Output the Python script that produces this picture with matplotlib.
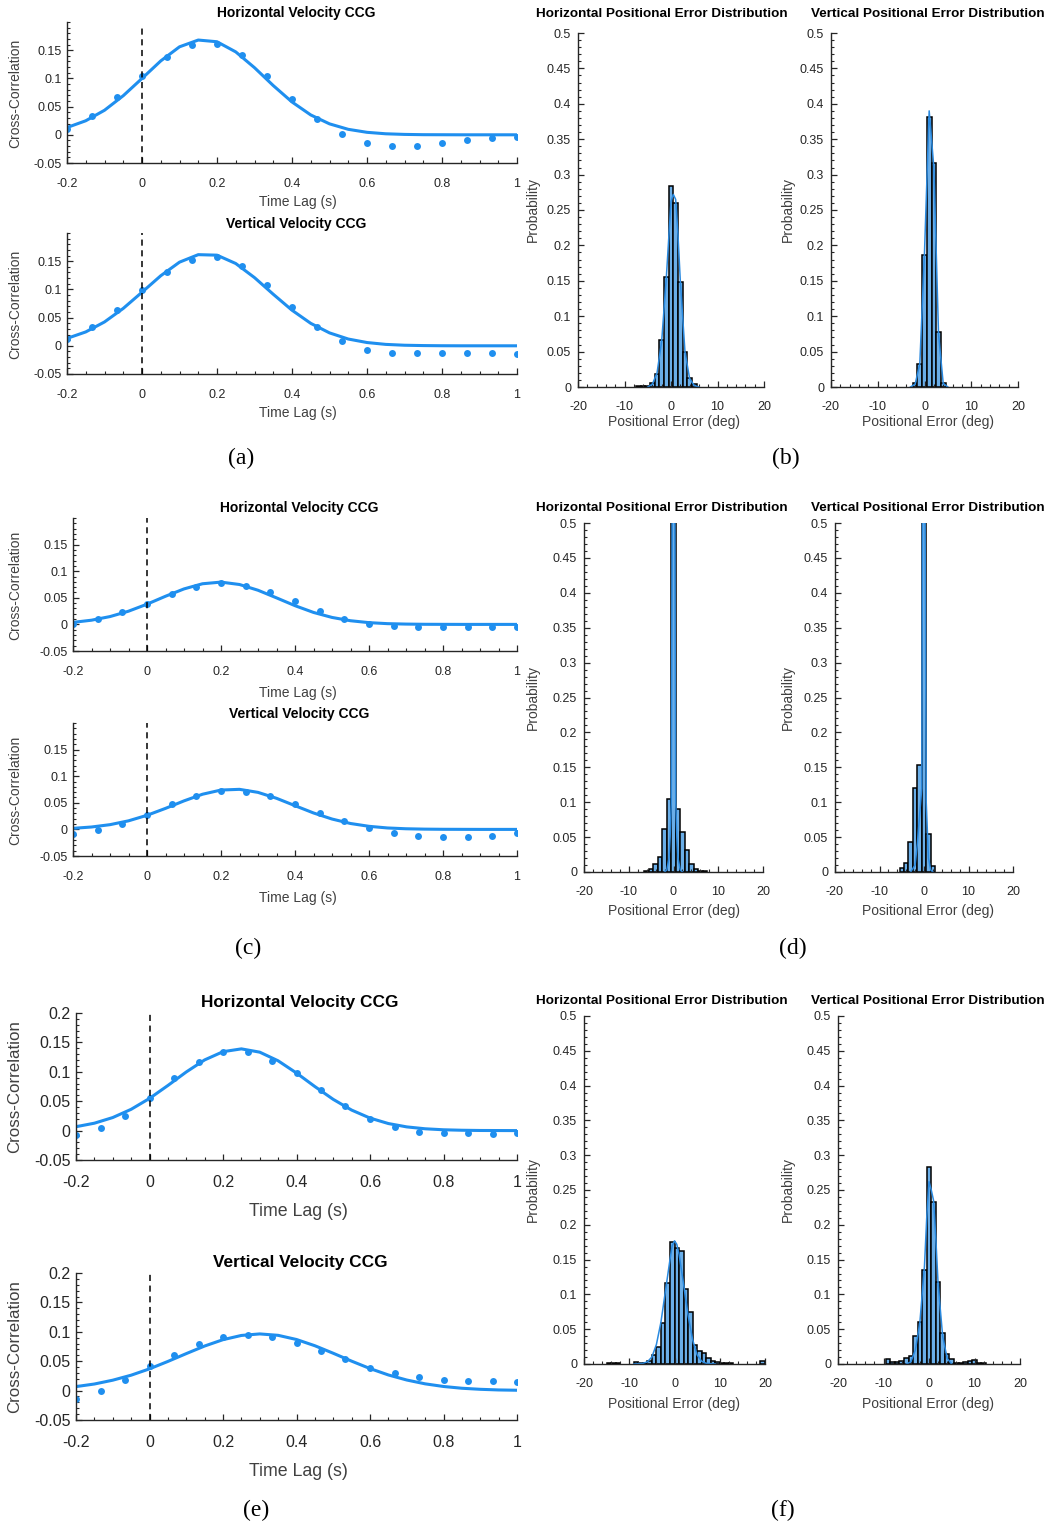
import numpy as np
import matplotlib.pyplot as plt
from matplotlib.ticker import MultipleLocator

plt.rcParams['font.family'] = ['Liberation Sans', 'DejaVu Sans']

# Figure size in pixels
W, H = 1048, 1527

# Lags of the CCG samples and of the fitted curves
lags = np.linspace(-0.2, 1.0, 19)
fit_lags = np.linspace(-0.2, 1.0, 25)

# CCG samples (dots)
dots_a_h = [0.011, 0.034, 0.067, 0.105, 0.138, 0.160, 0.161, 0.141, 0.105, 0.064, 0.028, 0.002,
            -0.014, -0.019, -0.019, -0.015, -0.009, -0.005, -0.004]
dots_a_v = [0.012, 0.034, 0.064, 0.099, 0.131, 0.153, 0.157, 0.141, 0.108, 0.068, 0.034, 0.008,
            -0.007, -0.013, -0.0125, -0.012, -0.012, -0.013, -0.015]
dots_c_h = [0.001, 0.011, 0.024, 0.039, 0.057, 0.071, 0.078, 0.073, 0.061, 0.044, 0.026, 0.011,
            0.001, -0.003, -0.004, -0.004, -0.004, -0.004, -0.005]
dots_c_v = [-0.0095, -0.001, 0.011, 0.028, 0.047, 0.063, 0.073, 0.071, 0.062, 0.047, 0.030, 0.015,
            0.003, -0.006, -0.012, -0.015, -0.0145, -0.012, -0.006]
dots_e_h = [-0.0074, 0.004, 0.025, 0.056, 0.089, 0.117, 0.133, 0.133, 0.119, 0.0975, 0.069, 0.0416,
            0.019, 0.006, -0.002, -0.004, -0.0046, -0.006, -0.004]
dots_e_v = [-0.0136, 0.0, 0.018, 0.041, 0.060, 0.079, 0.091, 0.094, 0.091, 0.081, 0.067, 0.053,
            0.039, 0.0295, 0.0227, 0.0187, 0.0164, 0.0159, 0.0142]

# Fitted curves, read every 0.05 s
fit_a_h = [0.0129, 0.0249, 0.0435, 0.0693, 0.0999, 0.131, 0.156, 0.168, 0.165, 0.147, 0.119, 0.0873,
           0.0582, 0.0352, 0.0194, 0.0097, 0.0044, 0.0018, 0.0007, 0.0002, 0.0001, 0, 0, 0, 0]
fit_a_v = [0.0131, 0.0246, 0.0423, 0.0663, 0.0950, 0.1242, 0.1483, 0.1616, 0.1607, 0.1459, 0.1209,
           0.0914, 0.0631, 0.0398, 0.0229, 0.0120, 0.0058, 0.0025, 0.0010, 0.0004, 0.0001, 0, 0, 0, 0]
fit_c_h = [0.0038, 0.0079, 0.0147, 0.0248, 0.0380, 0.0529, 0.0667, 0.0764, 0.0795, 0.0750, 0.0642,
           0.0499, 0.0352, 0.0225, 0.0131, 0.0069, 0.0033, 0.0014, 0.0006, 0.0002, 0.0001, 0, 0, 0, 0]
fit_c_v = [0.0020, 0.0045, 0.0089, 0.0161, 0.0265, 0.0395, 0.0536, 0.0661, 0.0740, 0.0753, 0.0696,
           0.0585, 0.0446, 0.0309, 0.0195, 0.0111, 0.0058, 0.0027, 0.0012, 0.0005, 0.0002, 0.0001, 0, 0, 0]
fit_e_h = [0.0066, 0.0126, 0.0222, 0.0362, 0.0547, 0.0767, 0.0997, 0.1202, 0.1342, 0.1390, 0.1334,
           0.1187, 0.0979, 0.0749, 0.0531, 0.0349, 0.0213, 0.0120, 0.0063, 0.0031, 0.0014, 0.0006,
           0.0002, 0.0001, 0]
fit_e_v = [0.0068, 0.0112, 0.0177, 0.0262, 0.0370, 0.0496, 0.0629, 0.0758, 0.0866, 0.0938, 0.0964,
           0.0940, 0.0869, 0.0763, 0.0635, 0.0501, 0.0375, 0.0266, 0.0180, 0.0115, 0.0070, 0.0040,
           0.0022, 0.0011, 0.0006]

# Positional error histograms (bin centres in deg, probability)
bins_b_h = [-7, -6, -5, -4, -3, -2, -1, 0, 1, 2, 3, 4, 5]
prob_b_h = [0.001, 0.001, 0.002, 0.005, 0.019, 0.066, 0.155, 0.284, 0.260, 0.149, 0.050, 0.013, 0.004]
bins_b_v = [-2, -1, 0, 1, 2, 3, 4]
prob_b_v = [0.005, 0.032, 0.187, 0.382, 0.316, 0.078, 0.005]
bins_d_h = [-6, -5, -4, -3, -2, -1, 0, 1, 2, 3, 4, 5, 6, 7]
prob_d_h = [0.002, 0.004, 0.011, 0.021, 0.062, 0.104, 0.600, 0.090, 0.057, 0.032, 0.012, 0.005, 0.002, 0.001]
bins_d_v = [-5, -4, -3, -2, -1, 0, 1, 2]
prob_d_v = [0.006, 0.013, 0.043, 0.121, 0.153, 0.600, 0.054, 0.008]
bins_f_h = [-14.5, -13.5, -12.5, -8.5, -7.5, -6.5, -5.5, -4.5, -3.5, -2.5, -1.5, -0.5, 0.5, 1.5,
            2.5, 3.5, 4.5, 5.5, 6.5, 7.5, 8.5, 9.5, 10.5, 11.5, 12.5, 19.5]
prob_f_h = [0.001, 0.001, 0.001, 0.003, 0.001, 0.002, 0.005, 0.013, 0.025, 0.059, 0.116, 0.175, 0.166,
            0.163, 0.108, 0.074, 0.028, 0.019, 0.016, 0.008, 0.004, 0.003, 0.002, 0.001, 0.001, 0.004]
bins_f_v = [-9, -8, -7, -6, -5, -4, -3, -2, -1, 0, 1, 2, 3, 4, 5, 6, 7, 8, 9, 10, 11, 12]
prob_f_v = [0.007, 0.003, 0.003, 0.005, 0.009, 0.012, 0.040, 0.060, 0.135, 0.283, 0.233, 0.118, 0.045,
            0.014, 0.007, 0.001, 0.001, 0.003, 0.005, 0.006, 0.002, 0.001]

# Density fits over the histograms
kx_b_h = [-5, -4, -3, -2, -1, 0, 0.5, 1, 1.5, 2, 3, 4, 5, 6]
ky_b_h = [0, 0.004, 0.02, 0.065, 0.155, 0.262, 0.272, 0.265, 0.215, 0.15, 0.05, 0.012, 0.002, 0]
kx_b_v = [-3, -2, -1, 0, 1, 2, 3, 4, 5]
ky_b_v = [0, 0.004, 0.033, 0.19, 0.39, 0.31, 0.075, 0.005, 0]
kx_d_h = [-2, -1.5, -1, -0.75, -0.5, -0.3, 0, 0.3, 0.5, 0.75, 1, 1.5, 2]
ky_d_h = [0, 0.003, 0.02, 0.05, 0.1, 0.5, 1.2, 0.5, 0.1, 0.05, 0.02, 0.003, 0]
kx_d_v = [-3, -2, -1.5, -1, -0.5, -0.35, 0, 0.25, 0.5, 1, 1.5, 2]
ky_d_v = [0, 0.01, 0.04, 0.08, 0.12, 0.5, 1.2, 0.5, 0.1, 0.02, 0.003, 0]
kx_f_h = [-9, -7, -6, -5, -4, -3, -2, -1, -0.5, 0, 0.5, 1, 2, 3, 4, 5, 6, 7, 9]
ky_f_h = [0, 0.001, 0.003, 0.01, 0.028, 0.06, 0.105, 0.15, 0.17, 0.177, 0.172, 0.158, 0.115, 0.07,
          0.035, 0.013, 0.004, 0.001, 0]
kx_f_v = [-5, -4, -3, -2, -1, -0.5, 0, 0.5, 1, 1.5, 2, 3, 4, 5]
ky_f_v = [0, 0.003, 0.02, 0.06, 0.14, 0.21, 0.262, 0.25, 0.235, 0.18, 0.115, 0.04, 0.008, 0]

# Tick labels
ccg_xticks = [-0.2, 0, 0.2, 0.4, 0.6, 0.8, 1.0]
ccg_xlabels = ['-0.2', '0', '0.2', '0.4', '0.6', '0.8', '1']
ccg_yticks = [-0.05, 0, 0.05, 0.1, 0.15, 0.2]
ccg_ylabels = ['-0.05', '0', '0.05', '0.1', '0.15', '0.2']
hist_xticks = [-20, -10, 0, 10, 20]
hist_xlabels = ['-20', '-10', '0', '10', '20']
hist_yticks = [0, 0.05, 0.1, 0.15, 0.2, 0.25, 0.3, 0.35, 0.4, 0.45, 0.5]
hist_ylabels = ['0', '0.05', '0.1', '0.15', '0.2', '0.25', '0.3', '0.35', '0.4', '0.45', '0.5']

blue = '#1f8fef'
bar_face = '#6aaee8'
dark = '#262626'
label_col = '#404040'

fig = plt.figure(figsize=(W / 100, H / 100), dpi=100)


def px_axes(x0, y0, x1, y1):
    # axes from pixel box (top-left origin)
    return fig.add_axes([x0 / W, 1 - y1 / H, (x1 - x0) / W, (y1 - y0) / H])


def px_text(x, y, s, **kw):
    fig.text(x / W, 1 - y / H, s, ha='center', va='center', **kw)


def style(ax, fs, xpad, ypad):
    ax.spines['top'].set_visible(False)
    ax.spines['right'].set_visible(False)
    for sp in ['left', 'bottom']:
        ax.spines[sp].set_color(dark)
        ax.spines[sp].set_linewidth(1.0)
    ax.tick_params(which='both', direction='in', color=dark, labelcolor=dark, labelsize=fs)
    ax.tick_params(which='major', length=4, width=0.9)
    ax.tick_params(which='minor', length=2.5, width=0.8)
    ax.tick_params(axis='x', which='both', pad=xpad)
    ax.tick_params(axis='y', which='both', pad=ypad)


def ccg(box, dots, fit, fs, show_top, dash_top=1.0):
    ax = px_axes(*box)
    ax.plot(fit_lags, fit, color=blue, lw=2.2, solid_capstyle='round')
    ax.plot(lags, dots, 'o', color=blue, ms=5, mec='none')
    ax.axvline(0, ymax=dash_top, color='k', ls=(0, (4, 3)), lw=1.1)
    ax.set_xlim(-0.2, 1.0)
    ax.set_ylim(-0.05, 0.2)
    ax.set_xticks(ccg_xticks)
    ax.set_xticklabels(ccg_xlabels)
    n = 6 if show_top else 5
    ax.set_yticks(ccg_yticks[:n])
    ax.set_yticklabels(ccg_ylabels[:n])
    ax.xaxis.set_minor_locator(MultipleLocator(0.05))
    ax.yaxis.set_minor_locator(MultipleLocator(0.01))
    style(ax, fs, 11, 4)
    return ax


def hist(box, centers, probs, kx, ky, fs):
    ax = px_axes(*box)
    ax.bar(centers, probs, width=1.0, color=bar_face, edgecolor='k', linewidth=1.1)
    ax.plot(kx, ky, color='#2a8ae0', lw=1.1)
    ax.set_xlim(-20, 20)
    ax.set_ylim(0, 0.5)
    ax.set_xticks(hist_xticks)
    ax.set_xticklabels(hist_xlabels)
    ax.set_yticks(hist_yticks)
    ax.set_yticklabels(hist_ylabels)
    ax.xaxis.set_minor_locator(MultipleLocator(2))
    ax.yaxis.set_minor_locator(MultipleLocator(0.01))
    style(ax, fs, 10, 5)
    return ax


# Row 1: (a) and (b)
ccg((67, 22, 517, 163), dots_a_h, fit_a_h, 9, False, dash_top=0.96)
ccg((67, 233, 517, 374), dots_a_v, fit_a_v, 9, False)
hist((578, 33, 764, 387), bins_b_h, prob_b_h, kx_b_h, ky_b_h, 9)
hist((831, 33, 1018, 387), bins_b_v, prob_b_v, kx_b_v, ky_b_v, 9)

# Row 2: (c) and (d)
ccg((73, 518, 517, 651), dots_c_h, fit_c_h, 9, False)
ccg((73, 723, 517, 856), dots_c_v, fit_c_v, 9, False)
hist((584, 523, 763, 872), bins_d_h, prob_d_h, kx_d_h, ky_d_h, 9)
hist((835, 523, 1013, 872), bins_d_v, prob_d_v, kx_d_v, ky_d_v, 9)

# Row 3: (e) and (f)
ccg((76, 1013, 517, 1160), dots_e_h, fit_e_h, 11.5, True)
ccg((76, 1273, 517, 1420), dots_e_v, fit_e_v, 11.5, True)
hist((584, 1016, 765, 1364), bins_f_h, prob_f_h, kx_f_h, ky_f_h, 9)
hist((838, 1016, 1020, 1364), bins_f_v, prob_f_v, kx_f_v, ky_f_v, 9)

# Titles
for (x, y, s, fs) in [(296, 13, 'Horizontal Velocity CCG', 10), (296, 224, 'Vertical Velocity CCG', 10),
                      (299, 508, 'Horizontal Velocity CCG', 10), (299, 714, 'Vertical Velocity CCG', 10),
                      (300, 1002, 'Horizontal Velocity CCG', 12.4), (300, 1262, 'Vertical Velocity CCG', 12.4)]:
    px_text(x, y, s, fontsize=fs, fontweight='bold')
for y in [14, 508, 1001]:
    px_text(662, y, 'Horizontal Positional Error Distribution', fontsize=9.7, fontweight='bold')
    px_text(928, y, 'Vertical Positional Error Distribution', fontsize=9.7, fontweight='bold')

# Axis labels
for (y, fs) in [(202, 10), (413, 10), (693, 10), (898, 10), (1211, 12.8), (1471, 12.8)]:
    px_text(298, y, 'Time Lag (s)', fontsize=fs, color=label_col)
for (y, fs) in [(93, 10), (304, 10), (585, 10), (790, 10), (1087, 12.2), (1347, 12.2)]:
    px_text(15, y, 'Cross-Correlation', fontsize=fs, color=label_col, rotation=90)
for y in [422, 911, 1404]:
    px_text(674, y, 'Positional Error (deg)', fontsize=10, color=label_col)
    px_text(928, y, 'Positional Error (deg)', fontsize=10, color=label_col)
for y in [210, 697, 1190]:
    px_text(533, y, 'Probability', fontsize=10, color=label_col, rotation=90)
    px_text(788, y, 'Probability', fontsize=10, color=label_col, rotation=90)

# Panel letters
for (x, y, s) in [(241, 458, '(a)'), (786, 458, '(b)'), (248, 948, '(c)'), (793, 948, '(d)'),
                  (256, 1510, '(e)'), (783, 1510, '(f)')]:
    px_text(x, y, s, fontsize=17, family=['Liberation Serif', 'DejaVu Serif'])

plt.savefig('out.png', dpi=100)
